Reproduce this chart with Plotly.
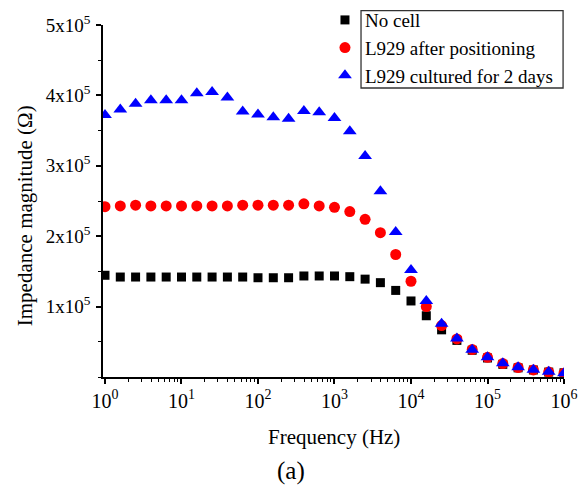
import plotly.graph_objects as go

# Frequency (Hz)
freq = [1, 1.585, 2.512, 3.981, 6.310, 10, 15.85, 25.12, 39.81, 63.10,
        100, 158.5, 251.2, 398.1, 631.0, 1000, 1585, 2512, 3981, 6310,
        10000, 15850, 25120, 39810, 63100, 100000, 158500, 251200, 398100, 631000, 1000000]

# Impedance magnitude (Ohm)
no_cell = [144500, 142000, 142000, 142000, 142000, 142000, 142000, 142000, 142000, 142000,
           141000, 141000, 141000, 143500, 143500, 143500, 142500, 139000, 134000, 123000,
           108000, 87000, 67000, 52000, 38000, 27000, 18000, 13000, 10000, 7000, 6000]
after_pos = [242000, 243000, 244000, 243000, 243000, 243000, 243000, 243000, 243000, 244000,
             244000, 244000, 244000, 246000, 243000, 241000, 235000, 224000, 205000, 174000,
             136000, 100000, 73000, 54000, 39000, 28000, 19000, 13500, 10000, 7000, 5500]
cultured = [372000, 380000, 388000, 393000, 393000, 393000, 403000, 405000, 397000, 377000,
            373000, 369000, 367000, 378000, 376000, 368000, 349000, 314000, 264000, 206000,
            152000, 108000, 75500, 54600, 38600, 28200, 19700, 14000, 10200, 7400, 5500]

series_names = ["No cell", "L929 after positioning", "L929 cultured for 2 days"]

x_tickvals = [1, 10, 100, 1000, 10000, 100000, 1000000]
x_ticktext = ["10<sup>0</sup>", "10<sup>1</sup>", "10<sup>2</sup>", "10<sup>3</sup>",
              "10<sup>4</sup>", "10<sup>5</sup>", "10<sup>6</sup>"]
y_tickvals = [100000, 200000, 300000, 400000, 500000]
y_ticktext = ["1x10<sup>5</sup>", "2x10<sup>5</sup>", "3x10<sup>5</sup>",
              "4x10<sup>5</sup>", "5x10<sup>5</sup>"]

x_minor = [m * d for d in [1, 10, 100, 1000, 10000, 100000] for m in range(2, 10)]

FONT = "Liberation Serif"

fig = go.Figure()
fig.add_trace(go.Scatter(x=freq, y=no_cell, mode="markers", name=series_names[0],
                         marker=dict(symbol="square", size=9, color="black")))
fig.add_trace(go.Scatter(x=freq, y=after_pos, mode="markers", name=series_names[1],
                         marker=dict(symbol="circle", size=11, color="#ff0000")))
fig.add_trace(go.Scatter(x=freq, y=cultured, mode="markers", name=series_names[2],
                         marker=dict(symbol="triangle-up", size=12, color="#0000ff")))

fig.update_layout(
    width=579, height=478,
    margin=dict(l=95, r=23, t=17, b=109, autoexpand=False),
    paper_bgcolor="white", plot_bgcolor="white",
    font=dict(family=FONT, color="black", size=19),
    showlegend=True,
    legend=dict(x=0.4815, y=1.068, xanchor="left", yanchor="top",
                bgcolor="rgba(0,0,0,0)", borderwidth=0,
                font=dict(family=FONT, size=19, color="black"),
                tracegroupgap=0),
    xaxis=dict(type="log", range=[-0.026, 6.0], showline=True, linecolor="black",
               linewidth=1.5, showgrid=False, zeroline=False, automargin=False,
               tickmode="array", tickvals=x_tickvals, ticktext=x_ticktext,
               ticks="outside", ticklen=5, tickwidth=1.5, tickcolor="black",
               tickfont=dict(family=FONT, size=20),
               minor=dict(tickmode="array", tickvals=x_minor, ticks="outside",
                          ticklen=3, tickwidth=1.2, tickcolor="black", showgrid=False)),
    yaxis=dict(range=[0, 500000], showline=True, linecolor="black", linewidth=1.5,
               showgrid=False, zeroline=False, automargin=False,
               tickmode="array", tickvals=y_tickvals, ticktext=y_ticktext,
               ticks="outside", ticklen=5, tickwidth=1.5, tickcolor="black",
               ticklabelstandoff=2,
               tickfont=dict(family=FONT, size=19),
               minor=dict(dtick=50000, tick0=0, ticks="outside", ticklen=3,
                          tickwidth=1.2, tickcolor="black", showgrid=False)),
    shapes=[dict(type="rect", xref="paper", yref="paper",
                 x0=0.5597, x1=0.998, y0=0.821, y1=1.041,
                 line=dict(color="#333333", width=1.3), fillcolor="rgba(0,0,0,0)")],
    annotations=[
        dict(text="Frequency (Hz)", xref="paper", yref="paper", x=0.501, y=-0.1696,
             xanchor="center", yanchor="middle", showarrow=False,
             font=dict(family=FONT, size=21)),
        dict(text="(a)", xref="paper", yref="paper", x=0.408, y=-0.267,
             xanchor="center", yanchor="middle", showarrow=False,
             font=dict(family=FONT, size=25)),
        dict(text="Impedance magnitude (Ω)", xref="paper", yref="paper", x=-0.169, y=0.457,
             xanchor="center", yanchor="middle", textangle=-90, showarrow=False,
             font=dict(family=FONT, size=21)),
    ],
)

fig.write_html("out.html", config={"displayModeBar": False})
